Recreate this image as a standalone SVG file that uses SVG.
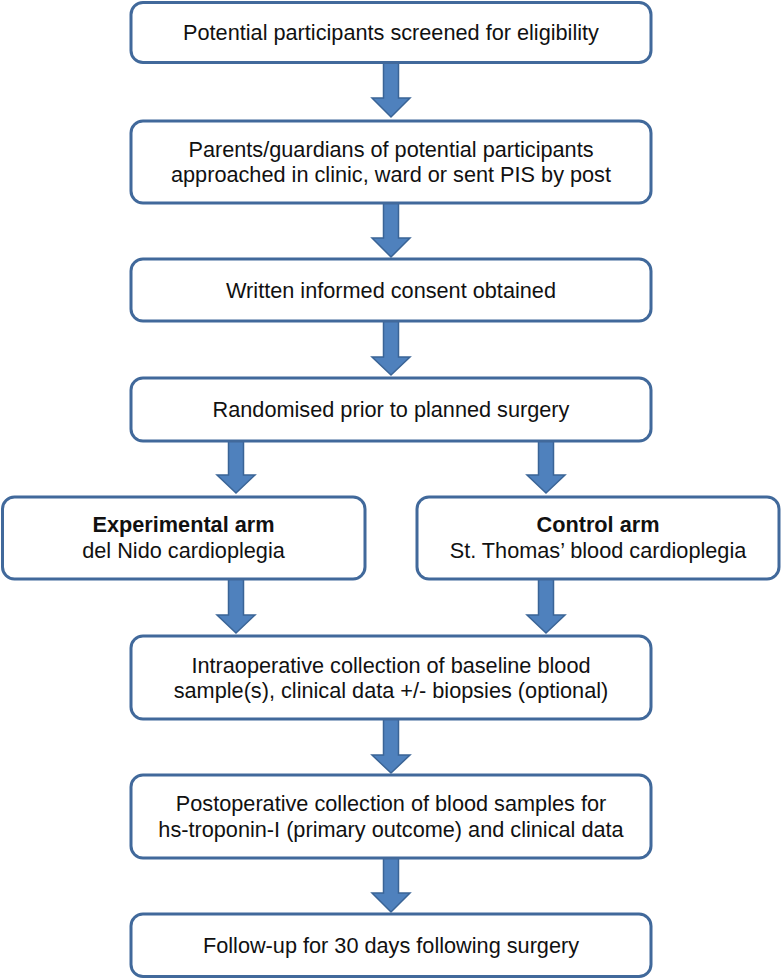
<svg xmlns="http://www.w3.org/2000/svg" width="782" height="979" viewBox="0 0 782 979">
<style>
.box{fill:#fff;stroke:#41699b;stroke-width:3}
.t{font-family:"Liberation Sans",Arial,sans-serif;font-size:21.7px;fill:#111;text-anchor:middle}
.b{font-weight:bold}
.arr{fill:#4f81bd;stroke:#3a6496;stroke-width:1.5;stroke-linejoin:miter}
</style>
<defs>
<path id="ar" d="M-7.5,0 L7.5,0 L7.5,-19 L19,-19 L0,0 Z"/>
</defs>
<rect width="782" height="979" fill="#fff"/>
<g id="connectors">
<path class="arr" d="M383.5,63 L398.5,63 L398.5,98 L410,98 L391,117 L372,98 L383.5,98 Z"/>
<path class="arr" d="M383.5,203 L398.5,203 L398.5,238 L410,238 L391,257 L372,238 L383.5,238 Z"/>
<path class="arr" d="M383.5,321 L398.5,321 L398.5,357 L410,357 L391,375 L372,357 L383.5,357 Z"/>
<path class="arr" d="M228.5,441 L243.5,441 L243.5,475 L255,475 L236,493 L217,475 L228.5,475 Z"/>
<path class="arr" d="M538.5,441 L553.5,441 L553.5,475 L565,475 L546,493 L527,475 L538.5,475 Z"/>
<path class="arr" d="M228.5,579 L243.5,579 L243.5,615 L255,615 L236,633 L217,615 L228.5,615 Z"/>
<path class="arr" d="M538.5,579 L553.5,579 L553.5,615 L565,615 L546,633 L527,615 L538.5,615 Z"/>
<path class="arr" d="M383.5,719 L398.5,719 L398.5,755 L410,755 L391,773 L372,755 L383.5,755 Z"/>
<path class="arr" d="M383.5,858 L398.5,858 L398.5,893 L410,893 L391,912 L372,893 L383.5,893 Z"/>
</g>
<g id="n1">
<rect class="box" x="131" y="2.5" width="520" height="60" rx="12"/>
<text class="t" x="391" y="40">Potential participants screened for eligibility</text>
</g>
<g id="n2">
<rect class="box" x="131" y="121" width="520" height="82" rx="12"/>
<text class="t" x="391" y="157">Parents/guardians of potential participants</text>
<text class="t" x="391" y="182">approached in clinic, ward or sent PIS by post</text>
</g>
<g id="n3">
<rect class="box" x="131" y="259" width="520" height="62" rx="12"/>
<text class="t" x="391" y="298">Written informed consent obtained</text>
</g>
<g id="n4">
<rect class="box" x="131" y="378" width="520" height="63" rx="12"/>
<text class="t" x="391" y="417">Randomised prior to planned surgery</text>
</g>
<g id="n5">
<rect class="box" x="2.5" y="497" width="362.5" height="82" rx="12"/>
<text class="t b" x="183.5" y="532">Experimental arm</text>
<text class="t" x="183.5" y="558">del Nido cardioplegia</text>
</g>
<g id="n6">
<rect class="box" x="417" y="497" width="362" height="82" rx="12"/>
<text class="t b" x="598" y="532">Control arm</text>
<text class="t" x="598" y="558">St. Thomas’ blood cardioplegia</text>
</g>
<g id="n7">
<rect class="box" x="131" y="636" width="520" height="83" rx="12"/>
<text class="t" x="391" y="673">Intraoperative collection of baseline blood</text>
<text class="t" x="391" y="698">sample(s), clinical data +/- biopsies (optional)</text>
</g>
<g id="n8">
<rect class="box" x="131" y="775" width="520" height="83" rx="12"/>
<text class="t" x="391" y="811">Postoperative collection of blood samples for</text>
<text class="t" x="391" y="837">hs-troponin-I (primary outcome) and clinical data</text>
</g>
<g id="n9">
<rect class="box" x="131" y="914" width="520" height="62.5" rx="12"/>
<text class="t" x="391" y="953">Follow-up for 30 days following surgery</text>
</g>
</svg>
